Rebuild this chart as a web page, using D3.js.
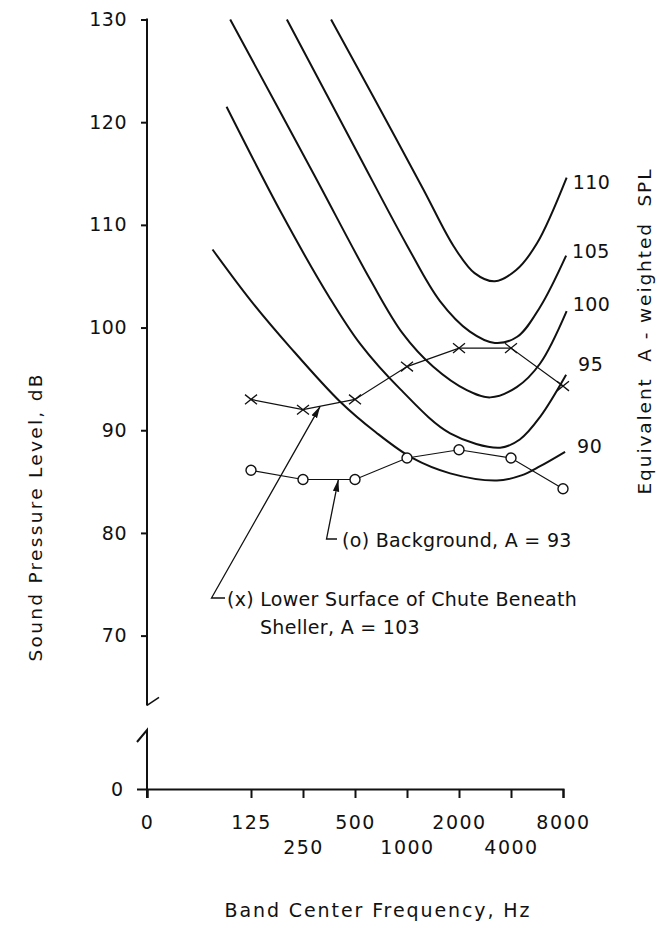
<!DOCTYPE html>
<html>
<head>
<meta charset="utf-8">
<script src="https://cdn.jsdelivr.net/npm/d3@7"></script>
<style>
  body { margin: 0; background: #fff; }
  svg text { font-family: "DejaVu Sans", sans-serif; fill: #111; }
</style>
</head>
<body>
<div id="chart"></div>
<script>
// octave bands; 0 Hz sits two octave steps left of 125 Hz on the axis
const bandLabels = ["125", "250", "500", "1000", "2000", "4000", "8000"];
const bandPos = [2, 3, 4, 5, 6, 7, 8];
const chuteSPL = [93, 92, 93, 96.2, 98, 98, 94.3];
const backgroundSPL = [86.1, 85.2, 85.2, 87.3, 88.1, 87.3, 84.3];

const xTickPos = [0, 2, 3, 4, 5, 6, 7, 8];
const xTickLabels = ["0", "125", "250", "500", "1000", "2000", "4000", "8000"];
const yTicks = [70, 80, 90, 100, 110, 120, 130];

// equal A-weighted SPL contours as [band position, dB]
const contourLevels = ["110", "105", "100", "95", "90"];
const contour110 = [[3.54, 130], [4.35, 122.5], [5.31, 113.5], [5.9, 107.9], [6.3, 105.3], [6.69, 104.5], [7.1, 105.6], [7.5, 108.2], [8.07, 114.6]];
const contour105 = [[2.69, 130], [4.03, 117.2], [5.0, 108], [5.63, 102.6], [6.21, 99.6], [6.69, 98.5], [7.12, 99.1], [7.56, 102.0], [8.06, 107.0]];
const contour100 = [[1.6, 130], [3.2, 115], [4.3, 104.6], [4.92, 99.4], [5.5, 96.2], [6.15, 93.9], [6.6, 93.2], [7.11, 94.2], [7.56, 96.5], [8.07, 101.6]];
const contour95 = [[1.53, 121.5], [2.6, 111], [3.5, 103], [4.1, 98.4], [4.87, 94.0], [5.83, 89.7], [6.79, 88.3], [7.17, 89.1], [7.56, 91.3], [8.06, 95.4]];
const contour90 = [[1.26, 107.6], [2.0, 102.6], [2.75, 98.1], [3.71, 92.8], [4.4, 89.8], [5.1, 87.3], [5.83, 85.8], [6.73, 85.1], [7.2, 85.6], [7.56, 86.5], [8.04, 87.9]];
const contours = [contour110, contour105, contour100, contour95, contour90];

// label nudges for the contour names at the right end of each curve
const labelDx = [6, 6, 6, 12, 12];
const labelDy = [11.5, 2.5, -0.5, -3.5, 1.5];

const width = 667, height = 926;

const svg = d3.select("#chart")
  .append("svg")
  .attr("width", width)
  .attr("height", height);

const x = d3.scaleLinear().domain([0, 8]).range([147, 563]);
const y = d3.scaleLinear().domain([70, 130]).range([635.6, 19.5]);
const yLow = d3.scaleLinear().domain([0, 5.7]).range([789, 730]);

// arrow head for the leaders
svg.append("defs").append("marker")
  .attr("id", "arrow")
  .attr("markerUnits", "userSpaceOnUse")
  .attr("markerWidth", 13)
  .attr("markerHeight", 8)
  .attr("refX", 12)
  .attr("refY", 4)
  .attr("orient", "auto")
  .append("path")
  .attr("d", "M0,0.8 L12,4 L0,7.2 Z")
  .attr("fill", "#111");

// y axis, upper part
const yAxis = svg.append("g")
  .attr("transform", `translate(${x(0)},0)`)
  .call(d3.axisLeft(y).tickValues(yTicks).tickSize(6).tickPadding(14));
yAxis.select(".domain").remove();
yAxis.selectAll("line").attr("stroke", "#111").attr("stroke-width", 2);
yAxis.selectAll("text").style("font-size", "19px").attr("letter-spacing", "0.5");

svg.append("line")
  .attr("x1", x(0)).attr("x2", x(0))
  .attr("y1", y(130) - 1).attr("y2", y(63.2))
  .attr("stroke", "#111").attr("stroke-width", 2);
// break slash
svg.append("line")
  .attr("x1", x(0)).attr("y1", y(63.2))
  .attr("x2", x(0) + 12).attr("y2", y(63.2) - 8)
  .attr("stroke", "#111").attr("stroke-width", 1.6);

// y axis, lower part (just the 0)
const yLowAxis = svg.append("g")
  .attr("transform", `translate(${x(0)},0)`)
  .call(d3.axisLeft(yLow).tickValues([0]).tickSize(10).tickPadding(14).tickFormat(d3.format("d")));
yLowAxis.select(".domain").remove();
yLowAxis.selectAll("line").attr("stroke", "#111").attr("stroke-width", 2);
yLowAxis.selectAll("text").style("font-size", "19px");

svg.append("path")
  .attr("d", `M${x(0) - 10},${yLow(5.7) + 12} L${x(0)},${yLow(5.7)} L${x(0)},${yLow(0) + 9}`)
  .attr("fill", "none")
  .attr("stroke", "#111").attr("stroke-width", 2);

// x axis
const xAxis = svg.append("g")
  .attr("transform", `translate(0,${yLow(0)})`)
  .call(d3.axisBottom(x)
    .tickValues(xTickPos)
    .tickSize(9)
    .tickPadding(18.5)
    .tickFormat((d, i) => xTickLabels[i]));
xAxis.select(".domain").attr("stroke", "#111").attr("stroke-width", 2);
xAxis.selectAll("line").attr("stroke", "#111").attr("stroke-width", 2);
xAxis.selectAll("text")
  .style("font-size", "19px")
  .attr("letter-spacing", "1.5")
  .attr("y", (d) => ([3, 5, 7].includes(d) ? 51.5 : 27));

// contours
const contourLine = d3.line()
  .x((d) => x(d[0]))
  .y((d) => y(d[1]))
  .curve(d3.curveCatmullRom.alpha(0.5));

svg.selectAll("path.contour")
  .data(contours)
  .enter()
  .append("path")
  .attr("class", "contour")
  .attr("d", contourLine)
  .attr("fill", "none")
  .attr("stroke", "#111")
  .attr("stroke-width", 2);

svg.selectAll("text.level")
  .data(contours)
  .enter()
  .append("text")
  .attr("class", "level")
  .attr("x", (d, i) => x(d[d.length - 1][0]) + labelDx[i])
  .attr("y", (d, i) => y(d[d.length - 1][1]) + labelDy[i])
  .style("font-size", "19px")
  .attr("letter-spacing", "0.5")
  .text((d, i) => contourLevels[i]);

// measured spectra
const seriesLine = d3.line()
  .x((d) => x(d[0]))
  .y((d) => y(d[1]));

const chutePts = bandPos.map((p, i) => [p, chuteSPL[i]]);
const backPts = bandPos.map((p, i) => [p, backgroundSPL[i]]);

[chutePts, backPts].forEach((pts) => {
  svg.append("path")
    .attr("d", seriesLine(pts))
    .attr("fill", "none")
    .attr("stroke", "#111")
    .attr("stroke-width", 1.2);
});

const cross = 6;
svg.selectAll("path.xmark")
  .data(chutePts)
  .enter()
  .append("path")
  .attr("class", "xmark")
  .attr("d", (d) => {
    const cx = x(d[0]), cy = y(d[1]);
    return `M${cx - cross},${cy - cross * 0.8} L${cx + cross},${cy + cross * 0.8} M${cx - cross},${cy + cross * 0.8} L${cx + cross},${cy - cross * 0.8}`;
  })
  .attr("stroke", "#111")
  .attr("stroke-width", 1.3);

svg.selectAll("circle.omark")
  .data(backPts)
  .enter()
  .append("circle")
  .attr("class", "omark")
  .attr("cx", (d) => x(d[0]))
  .attr("cy", (d) => y(d[1]))
  .attr("r", 5)
  .attr("fill", "#fff")
  .attr("stroke", "#111")
  .attr("stroke-width", 1.4);

// leaders and notes
const chuteTip = [x(3.33), y(chuteSPL[1] + 0.33 * (chuteSPL[2] - chuteSPL[1]))];
const backTip = [x(3.68), y(backgroundSPL[1] + 0.68 * (backgroundSPL[2] - backgroundSPL[1]))];

svg.append("path")
  .attr("d", `M225,598 L211.5,598 L${chuteTip[0]},${chuteTip[1]}`)
  .attr("fill", "none")
  .attr("stroke", "#111")
  .attr("stroke-width", 1.3)
  .attr("marker-end", "url(#arrow)");

svg.append("path")
  .attr("d", `M337,539 L326.5,539 L${backTip[0]},${backTip[1]}`)
  .attr("fill", "none")
  .attr("stroke", "#111")
  .attr("stroke-width", 1.3)
  .attr("marker-end", "url(#arrow)");

svg.append("text")
  .attr("x", 342).attr("y", 547)
  .style("font-size", "19px")
  .attr("letter-spacing", "0.3")
  .text("(o) Background, A = 93");

svg.append("text")
  .attr("x", 227).attr("y", 606)
  .style("font-size", "19px")
  .attr("letter-spacing", "0.3")
  .text("(x) Lower Surface of Chute Beneath");

svg.append("text")
  .attr("x", 260).attr("y", 634)
  .style("font-size", "19px")
  .attr("letter-spacing", "0.3")
  .text("Sheller, A = 103");

// axis titles
svg.append("text")
  .attr("transform", "translate(41.5,518) rotate(-90)")
  .attr("text-anchor", "middle")
  .style("font-size", "18.5px")
  .attr("textLength", 287)
  .text("Sound Pressure Level, dB");

svg.append("text")
  .attr("transform", "translate(651,332) rotate(-90)")
  .attr("text-anchor", "middle")
  .style("font-size", "18.5px")
  .style("white-space", "pre")
  .attr("textLength", 325)
  .text("Equivalent  A - weighted  SPL");

svg.append("text")
  .attr("x", 377).attr("y", 917)
  .attr("text-anchor", "middle")
  .style("font-size", "19px")
  .attr("textLength", 305)
  .text("Band Center Frequency, Hz");
</script>
</body>
</html>
